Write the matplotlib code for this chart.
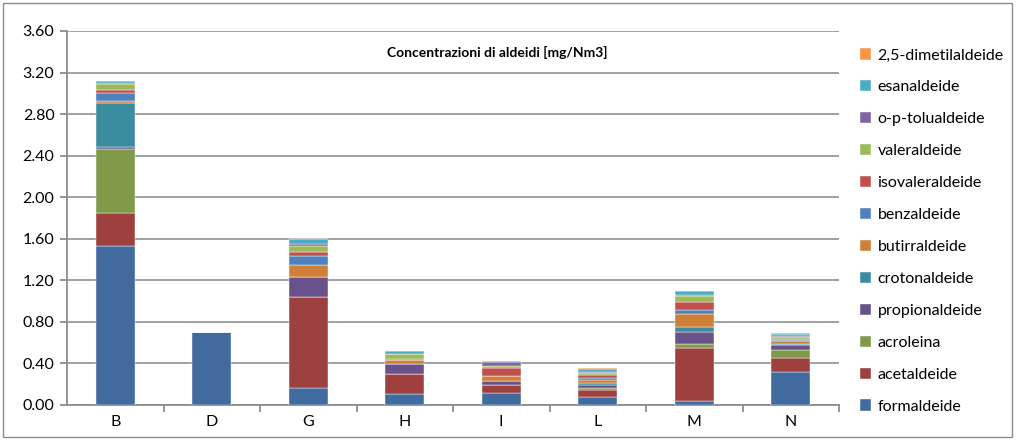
import matplotlib
matplotlib.use("Agg")
import matplotlib.pyplot as plt
import numpy as np
from matplotlib.patches import Rectangle

# sampling points
sites = ["B", "D", "G", "H", "I", "L", "M", "N"]

# aldehyde concentrations [mg/Nm3], per compound, per site
formaldeide      = [1.53, 0.70, 0.16, 0.11, 0.12, 0.075, 0.035, 0.32]
acetaldeide      = [0.32, 0.00, 0.88, 0.19, 0.075, 0.073, 0.515, 0.13]
acroleina        = [0.61, 0.00, 0.00, 0.00, 0.00, 0.015, 0.04, 0.075]
propionaldeide   = [0.02, 0.00, 0.19, 0.09, 0.04, 0.03, 0.11, 0.05]
crotonaldeide    = [0.43, 0.00, 0.00, 0.00, 0.00, 0.02, 0.05, 0.01]
butirraldeide    = [0.02, 0.00, 0.115, 0.045, 0.045, 0.03, 0.13, 0.035]
benzaldeide      = [0.07, 0.00, 0.09, 0.00, 0.00, 0.015, 0.035, 0.005]
isovaleraldeide  = [0.03, 0.00, 0.035, 0.01, 0.08, 0.035, 0.08, 0.01]
valeraldeide     = [0.06, 0.00, 0.065, 0.045, 0.015, 0.015, 0.055, 0.02]
o_p_tolualdeide  = [0.01, 0.00, 0.01, 0.00, 0.04, 0.01, 0.005, 0.005]
esanaldeide      = [0.02, 0.00, 0.05, 0.03, 0.01, 0.025, 0.045, 0.02]
dimetilaldeide   = [0.00, 0.00, 0.00, 0.00, 0.00, 0.015, 0.00, 0.01]

series = [
    ("formaldeide", formaldeide, "#416A9E"),
    ("acetaldeide", acetaldeide, "#9E413E"),
    ("acroleina", acroleina, "#7F9A48"),
    ("propionaldeide", propionaldeide, "#69518A"),
    ("crotonaldeide", crotonaldeide, "#3B8CA1"),
    ("butirraldeide", butirraldeide, "#D07F38"),
    ("benzaldeide", benzaldeide, "#4F81BD"),
    ("isovaleraldeide", isovaleraldeide, "#C0504D"),
    ("valeraldeide", valeraldeide, "#9BBB59"),
    ("o-p-tolualdeide", o_p_tolualdeide, "#8064A2"),
    ("esanaldeide", esanaldeide, "#4BACC6"),
    ("2,5-dimetilaldeide", dimetilaldeide, "#F79646"),
]

yticks = np.arange(0, 3.61, 0.4)

plt.rcParams["font.family"] = ["Lato", "DejaVu Sans"]

fig = plt.figure(figsize=(10.16, 4.41), dpi=100)
fig.patches.append(Rectangle((3 / 1016, 4 / 441), 1009 / 1016, 434 / 441,
                             transform=fig.transFigure, fill=False,
                             edgecolor="#8c8c8c", linewidth=1.0))
ax = fig.add_axes([67 / 1016, 36 / 441, 772 / 1016, 374 / 441])

x = np.arange(len(sites))
bottom = np.zeros(len(sites))
handles = []
for name, vals, color in series:
    vals = np.array(vals)
    h = ax.bar(x, vals, width=0.4, bottom=bottom, color=color,
               edgecolor="white", linewidth=0.3, label=name, zorder=3)
    handles.append(h)
    bottom += vals

ax.set_xlim(-0.5, len(sites) - 0.5)
ax.set_ylim(0, 3.6)
ax.set_yticks(yticks)
ax.set_yticklabels([f"{v:.2f}" for v in yticks], fontsize=11.5)
ax.yaxis.grid(True, color="#9a9a9a", linewidth=1.3, zorder=0)
ax.set_xticks(x)
ax.set_xticklabels(sites, fontsize=11.5)
ax.set_xticks(np.arange(0.5, len(sites)), minor=True)
ax.tick_params(axis="x", which="major", length=0, pad=7)
ax.tick_params(axis="x", which="minor", length=5, color="#8c8c8c", width=1.3)
ax.tick_params(axis="y", length=5, color="#8c8c8c", width=1.3, pad=4)
for side in ("top", "right"):
    ax.spines[side].set_visible(False)
for side in ("left", "bottom"):
    ax.spines[side].set_color("#8c8c8c")
    ax.spines[side].set_linewidth(1.3)

fig.text(497 / 1016, 1 - 52 / 441, "Concentrazioni di aldeidi [mg/Nm3]",
         ha="center", va="center", fontsize=10, fontweight="bold")

fig.legend(handles[::-1], [s[0] for s in series][::-1], loc="center left",
           bbox_to_anchor=(860 / 1016, 1 - 231 / 441), frameon=False,
           fontsize=11.5, handlelength=0.7, handleheight=0.7,
           handletextpad=0.4, labelspacing=1.11, borderpad=0, borderaxespad=0)

fig.savefig("out.png", dpi=100)
